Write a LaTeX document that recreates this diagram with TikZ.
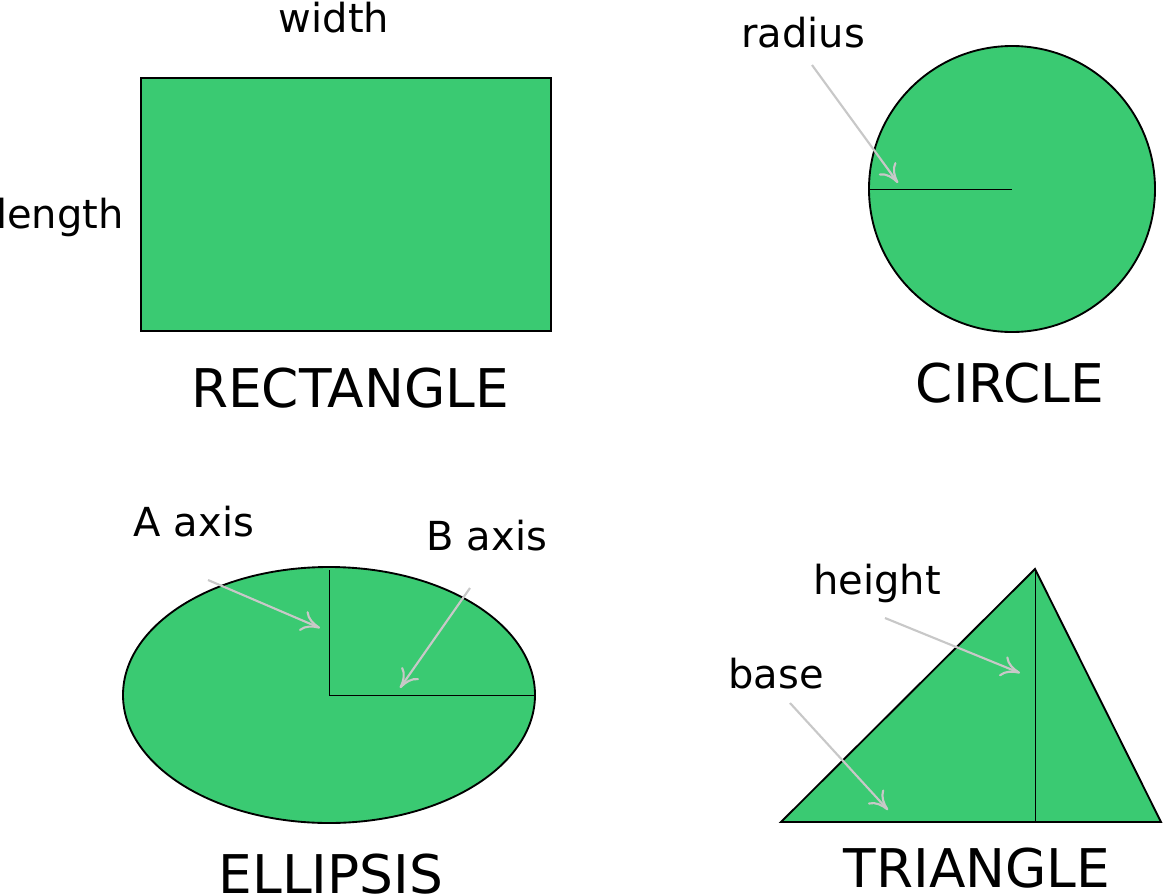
\documentclass[tikz,border=0pt]{standalone}
\usepackage{fontspec}
\setmainfont{DejaVu Sans}
\usetikzlibrary{arrows.meta}
\definecolor{shapegreen}{HTML}{3ACA72}
\definecolor{arrgray}{HTML}{C8C8C8}
\begin{document}
\begin{tikzpicture}[x=0.75pt,y=-0.75pt,
  greenshape/.style={fill=shapegreen,draw=black,line width=1.4pt},
  thinline/.style={draw=black,line width=0.7pt},
  pointer/.style={draw=arrgray,line width=1.6pt,-{To[length=14pt,width=16pt]}},
  small/.style={font=\fontsize{30}{34}\selectfont,inner sep=0pt},
  big/.style={font=\fontsize{40}{46}\selectfont,inner sep=0pt}]
\useasboundingbox (0,0) rectangle (1164,896);
% rectangle
\draw[greenshape] (141,78) rectangle (551,331);
\node[small] (w) at (334,18) {width};
\node[small] (l) at (60,217) {length};
\node[big] (rl) at (350,388) {RECTANGLE};
% circle
\draw[greenshape] (1012,189) circle[radius=143];
\coordinate (c0) at (869,189); \coordinate (c1) at (1012,189);
\draw[thinline] (c0) -- (c1);
\node[small] (r) at (803,33) {radius};
\coordinate (ra1) at (812,65); \coordinate (ra2) at (898,183);
\draw[pointer] (ra1) -- (ra2);
\node[big] (cl) at (1010,383) {CIRCLE};
% ellipse
\draw[greenshape] (329,695) ellipse[x radius=206,y radius=128];
\coordinate (e0) at (329,570); \coordinate (e1) at (329,695); \coordinate (e2) at (535,695);
\draw[thinline] (e0) -- (e1) -- (e2);
\node[small] (a) at (194,522) {A axis};
\node[small] (b) at (487,536) {B axis};
\coordinate (aa1) at (208,580); \coordinate (aa2) at (320,628);
\coordinate (ba1) at (470,588); \coordinate (ba2) at (400,688);
\draw[pointer] (aa1) -- (aa2);
\draw[pointer] (ba1) -- (ba2);
\node[big] (el) at (331,874) {ELLIPSIS};
% triangle
\coordinate (t1) at (781,822); \coordinate (t2) at (1035,569); \coordinate (t3) at (1161,822);
\draw[greenshape] (t1) -- (t2) -- (t3) -- cycle;
\coordinate (t4) at (1035,822);
\draw[thinline] (t2) -- (t4);
\node[small] (h) at (877,583) {height};
\node[small] (bs) at (776,674) {base};
\coordinate (ha1) at (885,618); \coordinate (ha2) at (1020,673);
\coordinate (bb1) at (790,703); \coordinate (bb2) at (888,810);
\draw[pointer] (ha1) -- (ha2);
\draw[pointer] (bb1) -- (bb2);
\node[big] (tl) at (977,868) {TRIANGLE};
\end{tikzpicture}
\end{document}
